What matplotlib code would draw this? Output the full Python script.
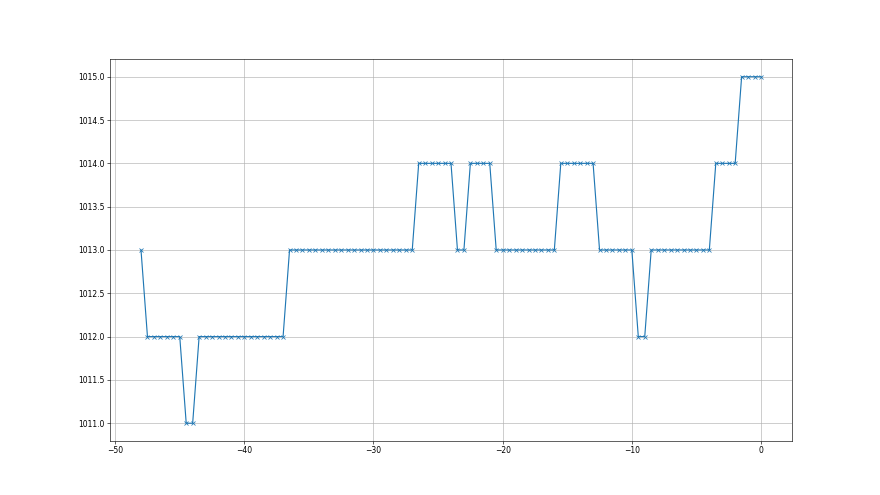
import numpy as np
import matplotlib
matplotlib.use("Agg")
import matplotlib.pyplot as plt

# x positions (hours), step 0.5 from -48 to 0
x_values = np.arange(-48, 0.01, 0.5)

# pressure readings
segments = [
    (1013, 1), (1012, 6), (1011, 2), (1012, 14), (1013, 20),
    (1014, 6), (1013, 2), (1014, 4), (1013, 10), (1014, 6),
    (1013, 6), (1012, 2), (1013, 10), (1014, 4), (1015, 4),
]
pressure = []
for val, count in segments:
    pressure += [val] * count

fig = plt.figure(figsize=(16, 9), dpi=55)
ax = fig.add_subplot(111)
ax.plot(x_values, pressure, marker='x')
ax.grid(True)
fig.savefig("out.png", dpi=55)
